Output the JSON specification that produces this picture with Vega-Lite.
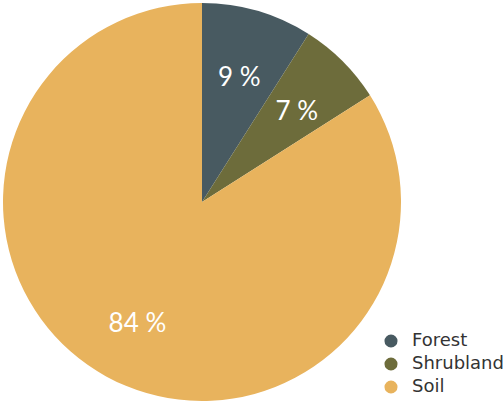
{
  "$schema": "https://vega.github.io/schema/vega-lite/v6.json",
  "width": 404,
  "height": 404,
  "padding": 0,
  "background": "white",
  "config": {"view": {"stroke": null}, "font": "Lato"},
  "data": {"values": [
    {"category": "Forest", "value": 9, "label": "9 %", "order": 1},
    {"category": "Shrubland", "value": 7, "label": "7 %", "order": 2},
    {"category": "Soil", "value": 84, "label": "84 %", "order": 3}
  ]},
  "encoding": {
    "theta": {"field": "value", "type": "quantitative", "stack": true},
    "order": {"field": "order", "type": "quantitative"}
  },
  "layer": [
    {"mark": {"type": "arc", "outerRadius": 199},
     "encoding": {
      "color": {
        "field": "category", "type": "nominal",
        "scale": {"domain": ["Forest", "Shrubland", "Soil"], "range": ["#485a61", "#6d6c3b", "#e8b35d"]},
        "legend": {
          "title": null, "orient": "none", "legendX": 382, "legendY": 332,
          "symbolType": "circle", "symbolSize": 170, "symbolStrokeWidth": 0,
          "labelFontSize": 18, "labelColor": "#333333", "labelFont": "DejaVu Sans",
          "rowPadding": 5, "labelOffset": 12
        }
      }
     }},
    {"mark": {"type": "text", "radius": 134, "dy": 5, "fontSize": 26, "color": "white", "font": "Lato"},
     "encoding": {"text": {"field": "label"}}}
  ]
}
